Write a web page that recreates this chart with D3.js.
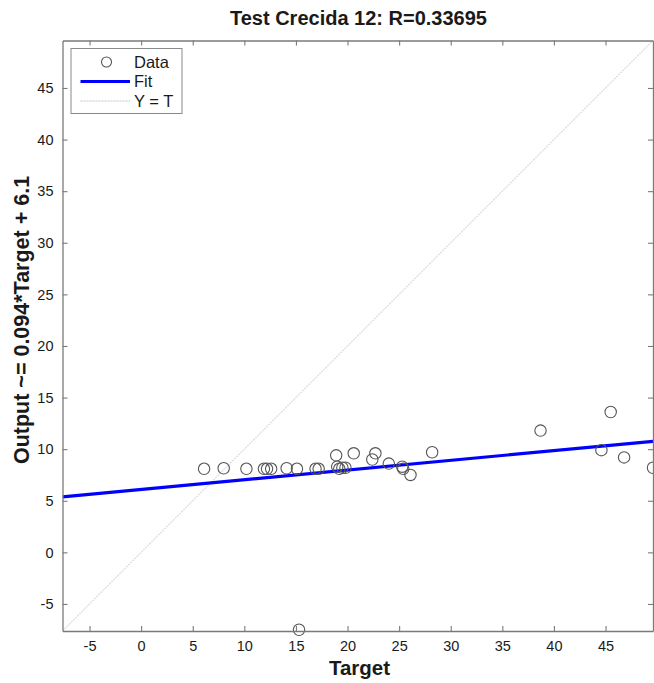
<!DOCTYPE html>
<html>
<head>
<meta charset="utf-8">
<script src="https://cdn.jsdelivr.net/npm/d3@7"></script>
<style>
  html, body { margin: 0; padding: 0; background: #fff; }
  svg { display: block; font-family: Arial, "Liberation Sans", Helvetica, sans-serif; }
</style>
</head>
<body>
<svg id="chart" width="654" height="683"></svg>
<script>
// Regression plot data: network targets vs. outputs
const targets = [6.1, 8.0, 10.2, 11.9, 12.2, 12.6, 14.1, 15.1, 15.3, 16.9, 17.2, 18.9, 19.0, 19.2, 19.5, 19.8,
                 20.6, 22.4, 22.7, 24.0, 25.3, 25.4, 26.1, 28.2, 38.7, 44.6, 45.5, 46.8, 49.6];
const outputs = [8.1, 8.15, 8.1, 8.1, 8.1, 8.1, 8.15, 8.1, -7.5, 8.1, 8.1, 9.4, 8.3, 8.1, 8.2, 8.2,
                 9.6, 9.0, 9.6, 8.6, 8.3, 8.1, 7.5, 9.7, 11.8, 9.9, 13.6, 9.2, 8.2];
const fitSlope = 0.094;
const fitIntercept = 6.1;
const axisMin = -7.62;
const axisMax = 49.6;
const tickValues = [-5, 0, 5, 10, 15, 20, 25, 30, 35, 40, 45];
const titleText = "Test Crecida 12: R=0.33695";
const xLabel = "Target";
const yLabel = "Output ~= 0.094*Target + 6.1";
const legendLabels = ["Data", "Fit", "Y = T"];

const svg = d3.select("#chart");
const m = { left: 62.5, right: 653, top: 40.5, bottom: 631 };

const x = d3.scaleLinear().domain([axisMin, axisMax]).range([m.left, m.right]);
const y = d3.scaleLinear().domain([axisMin, axisMax]).range([m.bottom, m.top]);

const axisColor = "#7a7a7a";
const textColor = "#1a1a1a";

// white plotting area
svg.append("rect")
  .attr("x", m.left).attr("y", m.top)
  .attr("width", m.right - m.left).attr("height", m.bottom - m.top)
  .attr("fill", "#fff");

const plot = svg.append("g");
svg.append("clipPath").attr("id", "plotClip")
  .append("rect")
  .attr("x", m.left).attr("y", m.top)
  .attr("width", m.right - m.left).attr("height", m.bottom - m.top);

// Y = T reference line
plot.append("line")
  .attr("x1", x(axisMin)).attr("y1", y(axisMin))
  .attr("x2", x(axisMax)).attr("y2", y(axisMax))
  .attr("stroke", "#c4c4c4").attr("stroke-width", 1)
  .attr("stroke-dasharray", "2,1");

// linear fit
plot.append("line")
  .attr("clip-path", "url(#plotClip)")
  .attr("x1", x(axisMin)).attr("y1", y(fitSlope * axisMin + fitIntercept))
  .attr("x2", x(axisMax)).attr("y2", y(fitSlope * axisMax + fitIntercept))
  .attr("stroke", "#0000ff").attr("stroke-width", 3.2);

// data points
plot.selectAll("circle.pt")
  .data(targets.map((t, i) => ({ t, o: outputs[i] })))
  .join("circle")
  .attr("class", "pt")
  .attr("cx", d => x(d.t)).attr("cy", d => y(d.o))
  .attr("r", 5.7)
  .attr("fill", "none")
  .attr("stroke", "#555").attr("stroke-width", 1.1);

// axes: ticks pointing inward on all four sides
const tickLen = 5;
const fmt = d => String(d);
const bottomAxis = d3.axisBottom(x).tickValues(tickValues).tickFormat(fmt).tickSizeInner(-tickLen).tickSizeOuter(0).tickPadding(10);
const leftAxis = d3.axisLeft(y).tickValues(tickValues).tickFormat(fmt).tickSizeInner(-tickLen).tickSizeOuter(0).tickPadding(9);
const topAxis = d3.axisTop(x).tickValues(tickValues).tickSizeInner(-tickLen).tickSizeOuter(0).tickFormat("");
const rightAxis = d3.axisRight(y).tickValues(tickValues).tickSizeInner(-tickLen).tickSizeOuter(0).tickFormat("");

function styleAxis(g) {
  g.select(".domain").attr("stroke", axisColor).attr("stroke-width", 1.3);
  g.selectAll(".tick line").attr("stroke", axisColor).attr("stroke-width", 1.1);
  g.selectAll(".tick text").attr("fill", textColor).style("font-size", "14.5px");
}

svg.append("g").attr("transform", `translate(0,${m.bottom})`).call(bottomAxis).call(styleAxis);
svg.append("g").attr("transform", `translate(${m.left},0)`).call(leftAxis).call(styleAxis);
svg.append("g").attr("transform", `translate(0,${m.top})`).call(topAxis).call(styleAxis);
svg.append("g").attr("transform", `translate(${m.right},0)`).call(rightAxis).call(styleAxis);

// title and axis labels
svg.append("text")
  .attr("x", 358.5).attr("y", 25)
  .attr("text-anchor", "middle")
  .attr("fill", textColor)
  .style("font-size", "20px").style("font-weight", "bold")
  .text(titleText);

svg.append("text")
  .attr("x", 359.5).attr("y", 675)
  .attr("text-anchor", "middle")
  .attr("fill", textColor)
  .style("font-size", "20.5px").style("font-weight", "bold")
  .text(xLabel);

svg.append("text")
  .attr("transform", `translate(29,320) rotate(-90)`)
  .attr("text-anchor", "middle")
  .attr("fill", textColor)
  .style("font-size", "21.5px").style("font-weight", "bold")
  .text(yLabel);

// legend
const lg = svg.append("g");
lg.append("rect")
  .attr("x", 71).attr("y", 48.5).attr("width", 111).attr("height", 65)
  .attr("fill", "#fff").attr("stroke", "#8a8a8a").attr("stroke-width", 1);
const rowY = [62, 81.5, 101];
lg.append("circle").attr("cx", 106.5).attr("cy", rowY[0]).attr("r", 5)
  .attr("fill", "none").attr("stroke", "#555").attr("stroke-width", 1.1);
lg.append("line").attr("x1", 80.5).attr("x2", 130).attr("y1", rowY[1]).attr("y2", rowY[1])
  .attr("stroke", "#0000ff").attr("stroke-width", 3.2);
lg.append("line").attr("x1", 80.5).attr("x2", 130).attr("y1", rowY[2]).attr("y2", rowY[2])
  .attr("stroke", "#c4c4c4").attr("stroke-width", 1).attr("stroke-dasharray", "2,1");
lg.selectAll("text.lbl")
  .data(legendLabels)
  .join("text")
  .attr("class", "lbl")
  .attr("x", 134).attr("y", (d, i) => rowY[i])
  .attr("dy", "0.36em")
  .attr("fill", textColor)
  .style("font-size", "16.5px")
  .text(d => d);
</script>
</body>
</html>
